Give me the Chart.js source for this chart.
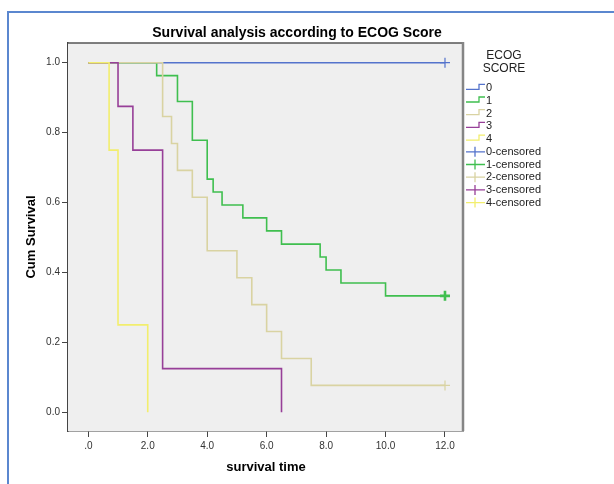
<!DOCTYPE html>
<html>
<head>
<meta charset="utf-8">
<style>
  html, body { margin: 0; padding: 0; background: #fff; }
  #wrap { width: 614px; height: 484px; position: relative; }
</style>
</head>
<body>
<div id="wrap"><canvas id="kmChart" width="614" height="484"></canvas></div>
<script src="https://cdn.jsdelivr.net/npm/chart.js"></script>
<script>
    // 그룹별 생존 데이터
    const groupNames = ['0', '1', '2', '3', '4'];
    const groupColors = ['#5473cc', '#3fbf4f', '#d9d3a2', '#973f98', '#f2ee6e'];

    const times0 = [0, 12];
    const surv0 = [1, 1];
    const times1 = [0, 2.3, 3.0, 3.5, 4.0, 4.2, 4.5, 5.2, 6.0, 6.5, 7.8, 8.0, 8.5, 10.0, 12.0];
    const surv1 = [1, 0.963, 0.889, 0.778, 0.667, 0.630, 0.593, 0.556, 0.519, 0.481, 0.444, 0.407, 0.370, 0.333, 0.333];
    const times2 = [0, 2.5, 2.8, 3.0, 3.5, 4.0, 5.0, 5.5, 6.0, 6.5, 7.5, 12.0];
    const surv2 = [1, 0.846, 0.769, 0.692, 0.615, 0.462, 0.385, 0.308, 0.231, 0.154, 0.077, 0.077];
    const times3 = [0, 1.0, 1.5, 2.5, 6.5];
    const surv3 = [1, 0.875, 0.75, 0.125, 0];
    const times4 = [0, 0.7, 1.0, 2.0];
    const surv4 = [1, 0.75, 0.25, 0];

    // 중도절단(censored) 표시
    const censorGroup = [0, 1, 2];
    const censorTimes = [12, 12, 12];
    const censorSurv = [1, 0.333, 0.077];

    // 축 눈금
    const xTicks = [0, 2, 4, 6, 8, 10, 12];
    const yTicks = [0, 0.2, 0.4, 0.6, 0.8, 1.0];

    const allTimes = [times0, times1, times2, times3, times4];
    const allSurv = [surv0, surv1, surv2, surv3, surv4];

    const FONT = "'Liberation Sans', Arial, sans-serif";

    let datasets = [];
    allTimes.forEach(function(ts, k) {
        datasets.push({
            label: groupNames[k],
            data: ts.map(function(t, i) { return {x: t, y: allSurv[k][i]}; }),
            borderColor: groupColors[k],
            borderWidth: 1.6,
            stepped: 'before',
            pointRadius: 0,
            fill: false,
            order: 4 - k
        });
    });
    censorGroup.forEach(function(g, i) {
        datasets.push({
            label: groupNames[g] + '-censored',
            data: [{x: censorTimes[i], y: censorSurv[i]}],
            showLine: false,
            pointStyle: 'cross',
            pointRadius: 5,
            pointBorderWidth: g === 1 ? 2.6 : 1.2,
            pointBorderColor: groupColors[g],
            borderColor: groupColors[g],
            order: -1
        });
    });

    // 배경, 테두리, 제목, 범례 그리기
    const decor = {
        id: 'decor',
        beforeDatasetsDraw(chart) {
            const a = chart.chartArea;
            const c = chart.ctx;
            c.save();
            c.fillStyle = '#efefef';
            c.fillRect(a.left, a.top, a.right - a.left, a.bottom - a.top);
            c.restore();
        },
        afterDraw(chart) {
            const a = chart.chartArea;
            const c = chart.ctx;
            c.save();
            // 바깥 파란 테두리
            c.strokeStyle = '#5b87cf';
            c.lineWidth = 2;
            c.beginPath();
            c.moveTo(8, 484);
            c.lineTo(8, 12);
            c.lineTo(614, 12);
            c.stroke();

            // 플롯 상자
            c.strokeStyle = '#555';
            c.lineWidth = 1.5;
            c.beginPath();
            c.moveTo(a.left, a.top);
            c.lineTo(a.right, a.top);
            c.stroke();
            c.strokeStyle = '#858585';
            c.lineWidth = 2.5;
            c.beginPath();
            c.moveTo(a.right, a.top - 1);
            c.lineTo(a.right, a.bottom);
            c.stroke();

            // 제목
            c.fillStyle = '#000';
            c.textAlign = 'center';
            c.textBaseline = 'middle';
            c.font = 'bold 14px ' + FONT;
            c.fillText('Survival analysis according to ECOG Score', 297, 33);

            // 축 제목
            c.font = 'bold 13px ' + FONT;
            c.fillText('survival time', 266, 467);
            c.save();
            c.translate(31, 237);
            c.rotate(-Math.PI / 2);
            c.fillText('Cum Survival', 0, 0);
            c.restore();

            // 범례
            c.font = '12px ' + FONT;
            c.fillStyle = '#222';
            c.fillText('ECOG', 504, 56);
            c.fillText('SCORE', 504, 68.5);
            c.textAlign = 'left';
            c.font = '11px ' + FONT;
            const y0 = 88.3, dy = 12.7;
            groupNames.forEach(function(name, k) {
                const y = y0 + dy * k;
                c.strokeStyle = groupColors[k];
                c.lineWidth = 1.3;
                c.beginPath();
                c.moveTo(466, y + 1);
                c.lineTo(479, y + 1);
                c.lineTo(479, y - 4);
                c.lineTo(485, y - 4);
                c.stroke();
                c.fillStyle = '#222';
                c.fillText(name, 486, y);
            });
            groupNames.forEach(function(name, k) {
                const y = y0 + dy * (k + 5);
                c.strokeStyle = groupColors[k];
                c.lineWidth = 1.3;
                c.beginPath();
                c.moveTo(466, y);
                c.lineTo(485, y);
                c.moveTo(475, y - 5);
                c.lineTo(475, y + 5);
                c.stroke();
                c.fillStyle = '#222';
                c.fillText(name + '-censored', 486, y);
            });
            c.restore();
        }
    };

    const ctx = document.getElementById('kmChart');
    let chart = new Chart(ctx, {
        type: 'line',
        data: { datasets: datasets },
        options: {
            responsive: false,
            animation: false,
            events: [],
            layout: { padding: { top: 43, right: 151, left: 0, bottom: 0 } },
            plugins: {
                legend: { display: false },
                title: { display: false },
                tooltip: { enabled: false }
            },
            scales: {
                x: {
                    type: 'linear',
                    min: -0.683,
                    max: 12.606,
                    afterBuildTicks: function(scale) {
                        scale.ticks = xTicks.map(function(v) { return {value: v}; });
                    },
                    afterFit: function(scale) { scale.height = 53; },
                    ticks: {
                        color: '#333',
                        font: { family: FONT, size: 10 },
                        padding: 3,
                        maxRotation: 0,
                        callback: function(v) { return v === 0 ? '.0' : v.toFixed(1); }
                    },
                    grid: { drawOnChartArea: false, drawTicks: true, tickLength: 6, color: '#444' },
                    border: { display: true, color: '#444', width: 1.5 }
                },
                y: {
                    type: 'linear',
                    min: -0.0535,
                    max: 1.0563,
                    afterBuildTicks: function(scale) {
                        scale.ticks = yTicks.map(function(v) { return {value: v}; });
                    },
                    afterFit: function(scale) { scale.width = 68; },
                    ticks: {
                        color: '#333',
                        font: { family: FONT, size: 10 },
                        padding: 2,
                        callback: function(v) { return v.toFixed(1); }
                    },
                    grid: { drawOnChartArea: false, drawTicks: true, tickLength: 6, color: '#444' },
                    border: { display: true, color: '#444', width: 1.5 }
                }
            }
        },
        plugins: [decor]
    });
</script>
</body>
</html>
